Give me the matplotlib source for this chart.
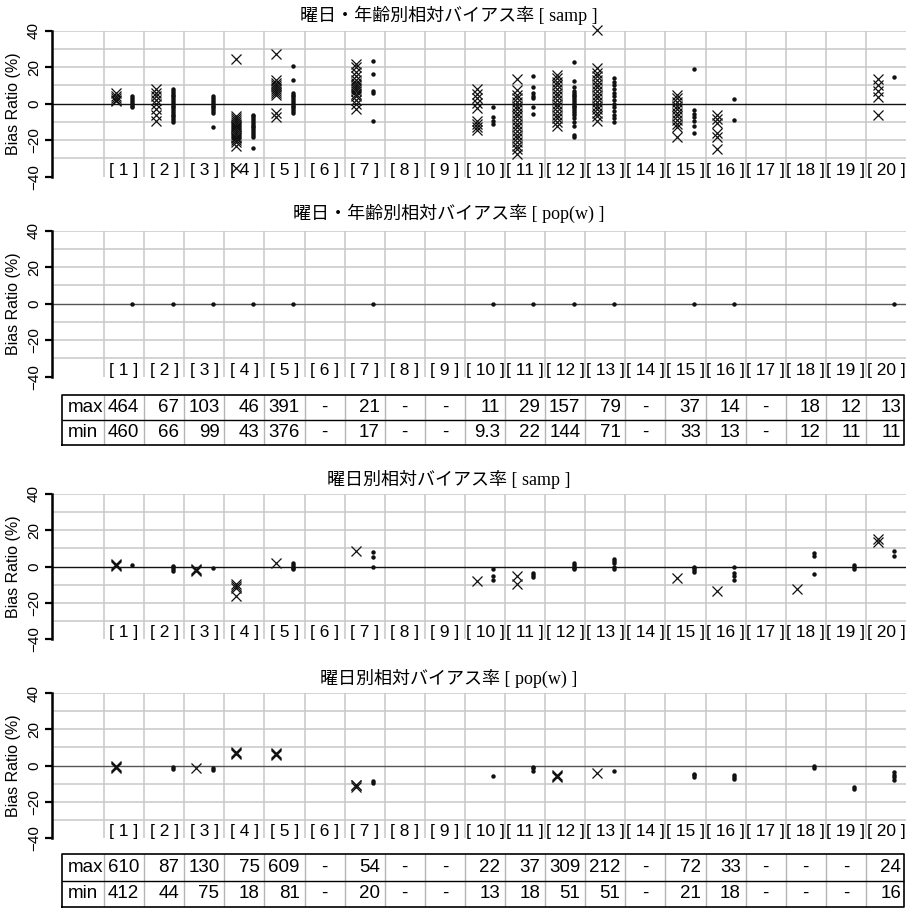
import matplotlib.pyplot as plt

plt.rcParams['font.family'] = ['Liberation Sans', 'Noto Sans CJK JP']

# ---- data ----
cats = list(range(1, 21))
cat_labels = ['[ 1 ]', '[ 2 ]', '[ 3 ]', '[ 4 ]', '[ 5 ]', '[ 6 ]', '[ 7 ]', '[ 8 ]', '[ 9 ]', '[ 10 ]',
              '[ 11 ]', '[ 12 ]', '[ 13 ]', '[ 14 ]', '[ 15 ]', '[ 16 ]', '[ 17 ]', '[ 18 ]', '[ 19 ]', '[ 20 ]']

titles = ['曜日・年齢別相対バイアス率 [ samp ]',
          '曜日・年齢別相対バイアス率 [ pop(w) ]',
          '曜日別相対バイアス率 [ samp ]',
          '曜日別相対バイアス率 [ pop(w) ]']

# panel 1 : 曜日・年齢別 samp
p1_cross = [[6, 4, 3, 2, 1.5],
            [8, 6, 4, 2, 0, -3, -6, -9.5],
            [],
            [24.5, -7, -8, -9, -10, -11, -12, -13, -14, -15, -16, -17, -18, -19, -20, -21, -23, -35],
            [27, 13, 11.5, 10, 9, 8, 7, 6, 4.5, -5, -7.5],
            [],
            [22, 20, 17.5, 15, 13, 11.5, 10, 9, 8, 7, 5.5, 4, 2, 0, -3],
            [], [],
            [8, 5.5, 3.3, 0.5, -2.2, -9.5, -11, -12.5, -14.5],
            [13.5, 7.5, 5, 3, 1, -1, -3, -5, -7, -9, -11, -13, -15, -17, -19, -21, -23, -25, -27.5],
            [16, 14, 12, 10, 8, 6, 4, 2, 0, -2, -4, -6, -8, -10, -12],
            [40.5, 19.5, 17, 15, 13, 11, 9, 7, 5, 3, 1, -1, -3, -5, -7, -9.5],
            [],
            [5, 3, 1, -1, -3, -5, -7, -9, -11, -13, -18.5],
            [-6, -8.5, -10.5, -16, -18, -25],
            [], [], [],
            [13.5, 10, 7, 3.5, -6]]
p1_dots = [[4, 3, 2, 1, 0, -1, -2],
           [8, 7, 6, 5, 4, 3, 2, 1, 0, -1, -2, -3, -4, -5, -6, -7, -8, -9, -10],
           [4, 3, 2, 1, 0, -1, -2, -3, -4, -5, -12.5],
           [-6, -7, -8, -9, -10, -11, -12, -13, -14, -15, -16, -17, -18, -24],
           [20.5, 13, 6, 5, 4, 3, 2, 1, 0, -1, -2, -3, -4, -5],
           [],
           [23.5, 16.5, 7, 6, -9.5],
           [], [],
           [-2, -7.5, -9.5, -11],
           [15, 9, 6, 4, 3, -2, -5.5],
           [23, 12.5, 9, 7, 6, 5, 4, 3, 2, 1, 0, -1, -2, -3, -4, -5, -6, -8, -10, -12, -17, -18],
           [14, 12, 10, 8, 6, 4, 2, 0, -2, -4, -6, -8, -10],
           [],
           [19, -3.5, -5.5, -7.5, -9.5, -12, -16],
           [2.5, -9],
           [], [], [],
           [14.5]]

# panel 2 : 曜日・年齢別 pop(w)
p2_cross = [[] for _ in cats]
p2_dots = [[0], [0], [0], [0], [0], [], [0], [], [], [0],
           [0], [0], [0], [], [0], [0], [], [], [], [0]]
t1_max = ['464', '67', '103', '46', '391', '-', '21', '-', '-', '11',
          '29', '157', '79', '-', '37', '14', '-', '18', '12', '13']
t1_min = ['460', '66', '99', '43', '376', '-', '17', '-', '-', '9.3',
          '22', '144', '71', '-', '33', '13', '-', '12', '11', '11']

# panel 3 : 曜日別 samp
p3_cross = [[1.5, 1, 0.5], [], [-1.5, -2, -2.5], [-9.5, -10.5, -12, -16.5], [2.2], [], [8.5], [], [], [-8],
            [-5, -9.5], [], [], [], [-6.5], [-13.5], [], [-12.5], [], [15, 13.5]]
p3_dots = [[0.7], [0.5, -0.5, -1.5, -2.5], [-0.8], [], [2, 1, 0, -1, -1.5], [], [8, 5.5, 0], [], [], [-1.5, -5, -7.5],
           [-3.5, -4.5, -6], [2, 1, 0, -1, -1.5], [4, 3, 2, 0, -1.5], [], [0, -1, -2, -3], [-0.5, -3.5, -5, -7.5],
           [], [7.5, 6, -4], [1, 0, -1.5], [8.5, 6]]

# panel 4 : 曜日別 pop(w)
p4_cross = [[-0.5, -1, -1.5], [], [-1.5], [7.5, 7, 6.5], [7, 6.5, 6], [], [-10.5, -11, -12], [], [], [],
            [], [-5.5, -6, -6.5], [-4], [], [], [], [], [], [], []]
p4_dots = [[], [-1, -1.8], [-1.5, -2.3], [], [], [], [-8.5, -9.5], [], [], [-6],
           [-0.8, -1.5, -2.8], [], [-3], [], [-4.5, -5.5, -6.5], [-5.5, -6.5, -7.5], [], [-0.5, -1.2],
           [-12, -13], [-3.5, -5, -6.5, -8]]
t2_max = ['610', '87', '130', '75', '609', '-', '54', '-', '-', '22',
          '37', '309', '212', '-', '72', '33', '-', '-', '-', '24']
t2_min = ['412', '44', '75', '18', '81', '-', '20', '-', '-', '13',
          '18', '51', '51', '-', '21', '18', '-', '-', '-', '16']

# ---- layout ----
W = 908.0
XMIN = 0.5 - 52 / 40.1
GRID = '#c8c8c8'

fig = plt.figure(figsize=(9.08, 9.08), dpi=100)


def px_axes(left, top, right, bottom):
    return fig.add_axes([left / W, 1 - bottom / W, (right - left) / W, (bottom - top) / W])


def draw_panel(ax, cross, dots, zero_color):
    ax.set_xlim(XMIN, 20.5)
    ax.set_ylim(-40, 40)
    for y in [-30, -20, -10, 10, 20, 30, 40]:
        ax.axhline(y, color=GRID, lw=1.1, zorder=1)
    ax.vlines([c - 0.5 for c in cats], -40, 40, color=GRID, lw=1.1, zorder=1)
    ax.axhline(0, color=zero_color, lw=1.0, zorder=2)
    for c, vals in zip(cats, cross):
        if vals:
            ax.plot([c - 0.21] * len(vals), vals, 'x', color='#111111', ms=7.5, mew=0.9,
                    zorder=3, clip_on=False)
    for c, vals in zip(cats, dots):
        if vals:
            ax.plot([c + 0.21] * len(vals), vals, 'o', color='#111111', ms=3.2, mew=0,
                    zorder=3, clip_on=False)
    for c, lab in zip(cats, cat_labels):
        ax.text(c, -36.5, lab, ha='center', va='center', fontsize=12.5)
    for s in ['top', 'right', 'bottom']:
        ax.spines[s].set_visible(False)
    ax.spines['left'].set_linewidth(1.8)
    ax.set_xticks([])
    ax.set_yticks([-40, -20, 0, 20, 40])
    ax.tick_params(axis='y', length=5, width=1.6, pad=3, labelsize=11, labelrotation=90)
    for lab in ax.get_yticklabels():
        lab.set_va('center')
    ax.set_ylabel('Bias Ratio (%)', fontsize=11.5)
    ax.yaxis.set_label_coords(-0.036, 0.5)


def draw_table(ax, vmax, vmin):
    ax.set_xlim(XMIN, 20.5)
    ax.set_ylim(0, 2)
    ax.axis('off')
    left = XMIN + 10 / 40.1
    right = 20.45
    ax.vlines([c - 0.5 for c in cats], 0, 2, color='#b4b4b4', lw=1.0)
    ax.hlines(1, left, right, color='black', lw=1.0)
    ax.plot([left, right, right, left, left], [0, 0, 2, 2, 0], color='black', lw=1.2,
            clip_on=False)
    ax.text(XMIN + 16 / 40.1, 1.5, 'max', ha='left', va='center', fontsize=13.5)
    ax.text(XMIN + 16 / 40.1, 0.5, 'min', ha='left', va='center', fontsize=13.5)
    for c, a, b in zip(cats, vmax, vmin):
        for val, y in [(a, 1.5), (b, 0.5)]:
            if val == '-':
                ax.text(c, y, val, ha='center', va='center', fontsize=13.5)
            else:
                ax.text(c + 0.38, y, val, ha='right', va='center', fontsize=13.5)


ax1 = px_axes(52, 30.7, 906, 176.7)
ax2 = px_axes(52, 230.7, 906, 376.7)
ax3 = px_axes(52, 494, 906, 639)
ax4 = px_axes(52, 693, 906, 838)
tb1 = px_axes(52, 395, 906, 445)
tb2 = px_axes(52, 854, 906, 907)

draw_panel(ax1, p1_cross, p1_dots, '#111111')
draw_panel(ax2, p2_cross, p2_dots, '#555555')
draw_panel(ax3, p3_cross, p3_dots, '#111111')
draw_panel(ax4, p4_cross, p4_dots, '#555555')
draw_table(tb1, t1_max, t1_min)
draw_table(tb2, t2_max, t2_min)

for t, ypx in zip(titles, [15, 213, 479, 678]):
    fig.text(449 / W, 1 - ypx / W, t, ha='center', va='center', fontsize=13,
             family=['Liberation Serif', 'Noto Sans CJK JP'])

fig.savefig('out.png', dpi=100)
